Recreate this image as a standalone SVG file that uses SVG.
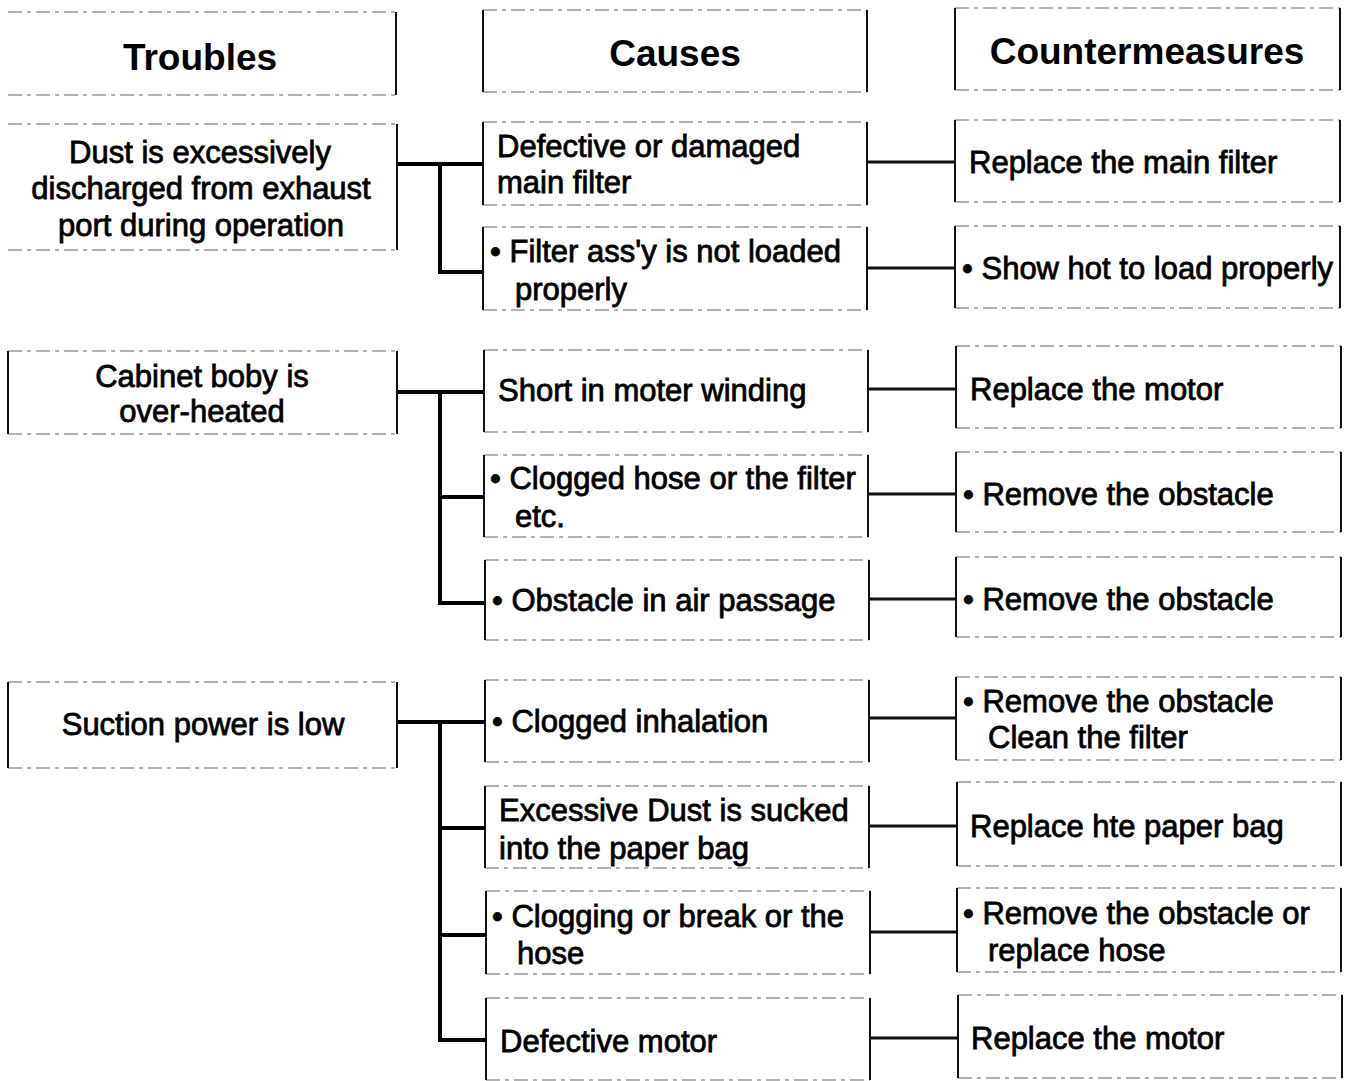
<svg xmlns="http://www.w3.org/2000/svg" width="1345" height="1081" viewBox="0 0 1345 1081">
<style>
.tb{stroke:#999;stroke-width:1.5;stroke-dasharray:14 5 4 5;fill:none}
.sd{stroke:#111;stroke-width:2;fill:none}
.h{font-family:"Liberation Sans",Arial,sans-serif;font-weight:bold;font-size:37px;fill:#000;text-anchor:middle}
.t{font-family:"Liberation Sans",Arial,sans-serif;font-size:31px;fill:#000;stroke:#000;stroke-width:0.8}
.m{text-anchor:middle}
.c{stroke:#000;stroke-width:4;fill:none}
.cc{stroke:#111;stroke-width:3;fill:none}
</style>
<rect width="1345" height="1081" fill="#fff"/>
<g id="hdr-troubles"><path class="tb" d="M8 12H396M8 95H396"/><path class="sd" d="M396 12V95"/><text class="h" x="200" y="70">Troubles</text></g>
<g id="hdr-causes"><path class="tb" d="M483 10H867M483 92H867"/><path class="sd" d="M483 10V92M867 10V92"/><text class="h" x="675" y="66">Causes</text></g>
<g id="hdr-counter"><path class="tb" d="M955 8H1340M955 90H1340"/><path class="sd" d="M955 8V90M1340 8V90"/><text class="h" x="1147" y="64">Countermeasures</text></g>

<g id="t1"><path class="tb" d="M8 124H397M8 250H397"/><path class="sd" d="M397 124V250"/><text class="t m" x="200" y="163">Dust is excessively</text><text class="t m" x="201" y="199">discharged from exhaust</text><text class="t m" x="201" y="236">port during operation</text></g>
<g id="t2"><path class="tb" d="M8 351H397M8 434H397"/><path class="sd" d="M8 351V434M397 351V434"/><text class="t m" x="202" y="387">Cabinet boby is</text><text class="t m" x="202" y="422">over-heated</text></g>
<g id="t3"><path class="tb" d="M8 682H397M8 768H397"/><path class="sd" d="M8 682V768M397 682V768"/><text class="t m" x="203" y="735">Suction power is low</text></g>

<g id="c1"><path class="tb" d="M483 122H867M483 205H867"/><path class="sd" d="M483 122V205M867 122V205"/><text class="t" x="497" y="157">Defective or damaged</text><text class="t" x="497" y="193">main filter</text></g>
<g id="c2"><path class="tb" d="M483 227H867M483 310H867"/><path class="sd" d="M483 227V310M867 227V310"/><text class="t" x="490" y="262">• Filter ass'y is not loaded</text><text class="t" x="515" y="300">properly</text></g>
<g id="c3"><path class="tb" d="M484 350H868M484 432H868"/><path class="sd" d="M484 350V432M868 350V432"/><text class="t" x="498" y="401">Short in moter winding</text></g>
<g id="c4"><path class="tb" d="M484 455H868M484 537H868"/><path class="sd" d="M484 455V537M868 455V537"/><text class="t" x="490" y="489">• Clogged hose or the filter</text><text class="t" x="515" y="527">etc.</text></g>
<g id="c5"><path class="tb" d="M485 560H869M485 640H869"/><path class="sd" d="M485 560V640M869 560V640"/><text class="t" x="492" y="611">• Obstacle in air passage</text></g>
<g id="c6"><path class="tb" d="M485 680H869M485 762H869"/><path class="sd" d="M485 680V762M869 680V762"/><text class="t" x="492" y="732">• Clogged inhalation</text></g>
<g id="c7"><path class="tb" d="M485 786H869M485 868H869"/><path class="sd" d="M485 786V868M869 786V868"/><text class="t" x="499" y="821">Excessive Dust is sucked</text><text class="t" x="499" y="859">into the paper bag</text></g>
<g id="c8"><path class="tb" d="M486 891H870M486 974H870"/><path class="sd" d="M486 891V974M870 891V974"/><text class="t" x="492" y="927">• Clogging or break or the</text><text class="t" x="517" y="964">hose</text></g>
<g id="c9"><path class="tb" d="M486 998H870M486 1080H870"/><path class="sd" d="M486 998V1080M870 998V1080"/><text class="t" x="500" y="1052">Defective motor</text></g>

<g id="m1"><path class="tb" d="M955 120H1340M955 202H1340"/><path class="sd" d="M955 120V202M1340 120V202"/><text class="t" x="969" y="173">Replace the main filter</text></g>
<g id="m2"><path class="tb" d="M955 226H1340M955 308H1340"/><path class="sd" d="M955 226V308M1340 226V308"/><text class="t" x="962" y="279">• Show hot to load properly</text></g>
<g id="m3"><path class="tb" d="M956 346H1341M956 428H1341"/><path class="sd" d="M956 346V428M1341 346V428"/><text class="t" x="970" y="400">Replace the motor</text></g>
<g id="m4"><path class="tb" d="M956 452H1341M956 532H1341"/><path class="sd" d="M956 452V532M1341 452V532"/><text class="t" x="963" y="505">• Remove the obstacle</text></g>
<g id="m5"><path class="tb" d="M956 557H1341M956 637H1341"/><path class="sd" d="M956 557V637M1341 557V637"/><text class="t" x="963" y="610">• Remove the obstacle</text></g>
<g id="m6"><path class="tb" d="M956 677H1341M956 760H1341"/><path class="sd" d="M956 677V760M1341 677V760"/><text class="t" x="963" y="712">• Remove the obstacle</text><text class="t" x="988" y="748">Clean the filter</text></g>
<g id="m7"><path class="tb" d="M957 782H1341M957 866H1341"/><path class="sd" d="M957 782V866M1341 782V866"/><text class="t" x="970" y="837">Replace hte paper bag</text></g>
<g id="m8"><path class="tb" d="M957 888H1341M957 972H1341"/><path class="sd" d="M957 888V972M1341 888V972"/><text class="t" x="963" y="924">• Remove the obstacle or</text><text class="t" x="988" y="961">replace hose</text></g>
<g id="m9"><path class="tb" d="M958 995H1342M958 1078H1342"/><path class="sd" d="M958 995V1078M1342 995V1078"/><text class="t" x="971" y="1049">Replace the motor</text></g>

<g id="connectors">
<path class="c" d="M398 164H483M440 164V272H483"/>
<path class="c" d="M398 392H483M440 392V603H484M440 497H484"/>
<path class="c" d="M398 722H485M440 722V1040H486M440 828H485M440 935H486"/>
<path class="cc" d="M868 162H955M868 268H955M869 389H956M869 494H956M870 599H956M870 718H956M870 826H957M871 932H957M871 1038H958"/>
</g>
</svg>
